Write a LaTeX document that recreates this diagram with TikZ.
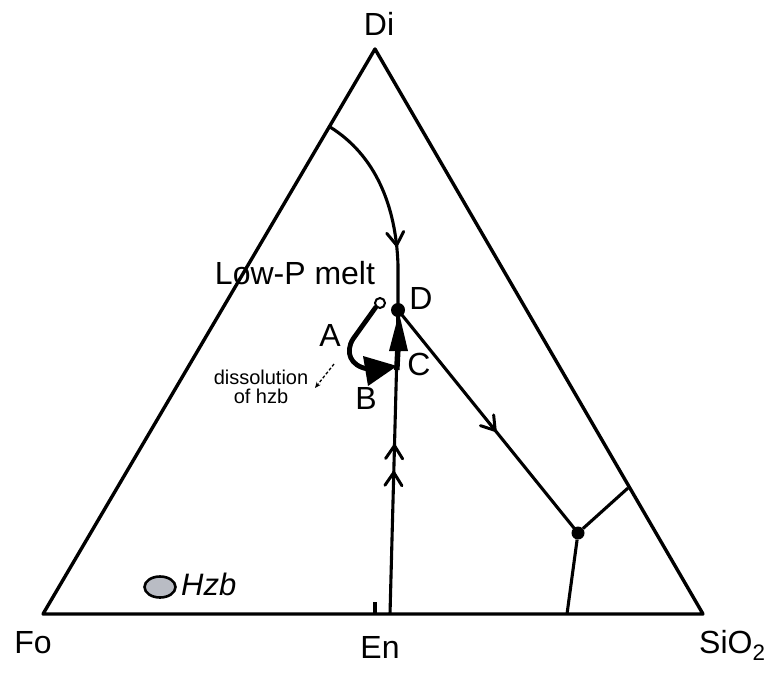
\documentclass[tikz,border=0pt]{standalone}
\usepackage{fontspec}
\setmainfont{Liberation Sans}
\usetikzlibrary{arrows.meta,decorations.markings,shapes.geometric}
\newcommand{\chevmark}{\draw[line width=3pt, line cap=round, line join=miter] (-13pt,-8.5pt) -- (0pt,0pt) -- (-13pt,8.5pt);}
\tikzset{
  edge/.style={line width=3.1pt, line join=round},
  lbl/.style={font=\fontsize{32}{36}\selectfont, inner sep=0pt},
  midarrow/.style={postaction={decorate},decoration={markings,mark=at position #1 with {\chevmark}}},
  twoarrows/.style 2 args={postaction={decorate},decoration={markings,mark=at position #1 with {\chevmark},mark=at position #2 with {\chevmark}}},
  dot/.style={circle, fill=black, inner sep=0pt, minimum size=14pt},
}
\begin{document}
\begin{tikzpicture}[x=1pt,y=-1pt]
\useasboundingbox (0,0) rectangle (783,672);
% vertices
\coordinate (Fo) at (43,614);
\coordinate (Di) at (375,49);
\coordinate (Si) at (703,614);
\draw[edge, line width=3.4pt] (Fo) -- (Di) -- (Si) -- cycle;
% labels of vertices
\node[lbl] (tDi) at (379,24) {Di};
\node[lbl] (tFo) at (33,643) {Fo};
\node[lbl] (tEn) at (380,647) {En};
\node[lbl, anchor=west] (tSi) at (699,645) {SiO\textsubscript{2}};
% En tick
\coordinate (Entop) at (375,602);
\coordinate (Enbot) at (375,614);
\draw[edge] (Entop) -- (Enbot);
% cotectic curve
\coordinate (Lside) at (330,127);
\coordinate (Dpt) at (398,310);
\coordinate (Ebase) at (390,614);
\draw[edge, midarrow=0.685] (Lside) .. controls (375,155) and (396,205) .. (398,265) -- (Dpt);
\draw[edge] (Dpt) -- (398,348);
\draw[edge, twoarrows={0.58}{0.69}] (Ebase) -- (396.5,370);
\draw[line width=5.5pt] (396.8,370) -- (398,347);
\fill (389,351) -- (399,313) -- (408,351) -- cycle;
% D to eutectic
\node[dot] (Dn) at (Dpt) {};
\coordinate (Eu) at (578,533);
\draw[edge, midarrow=0.54] (Dpt) -- (Eu);
\node[dot, minimum size=13pt] (Eun) at (Eu) {};
\coordinate (Rside) at (628,488);
\coordinate (Sbase) at (567,614);
\draw[edge] (Eun) -- (Rside);
\draw[edge] (Eun) -- (Sbase);
% A-B path
\node[circle, draw, line width=2pt, fill=white, inner sep=0pt, minimum size=10pt] (open) at (380,303) {};
\draw[line width=4.8pt, line cap=round] (open.south west) -- (353,339) .. controls (345,352) and (350,366) .. (368,369);
\fill (363,356) -- (397,366) -- (368,386) -- cycle;
% point labels
\node[lbl] (lD) at (421,298) {D};
\node[lbl] (lC) at (419,364) {C};
\node[lbl] (lB) at (366,398) {B};
\node[lbl] (lA) at (330,335) {A};
\node[lbl] (low) at (295,273) {Low-P melt};
% dissolution
\node[font=\fontsize{20}{19}\selectfont, align=center, inner sep=0pt] (diss) at (261,387) {dissolution\\of hzb};
\coordinate (dstart) at (334,364);
\coordinate (dend) at (315,388);
\draw[line width=1.3pt, dash pattern=on 3pt off 2pt, -{Stealth[length=6pt,width=5pt]}] (dstart) -- (dend);
% Hzb
\node[ellipse, draw, line width=2.6pt, fill={rgb,255:red,185;green,188;blue,196}, minimum width=31pt, minimum height=21pt, inner sep=0pt] (hzb) at (160,587) {};
\node[lbl, anchor=west, font=\fontsize{31}{34}\selectfont\itshape] (thzb) at (181,584) {Hzb};
\end{tikzpicture}
\end{document}
